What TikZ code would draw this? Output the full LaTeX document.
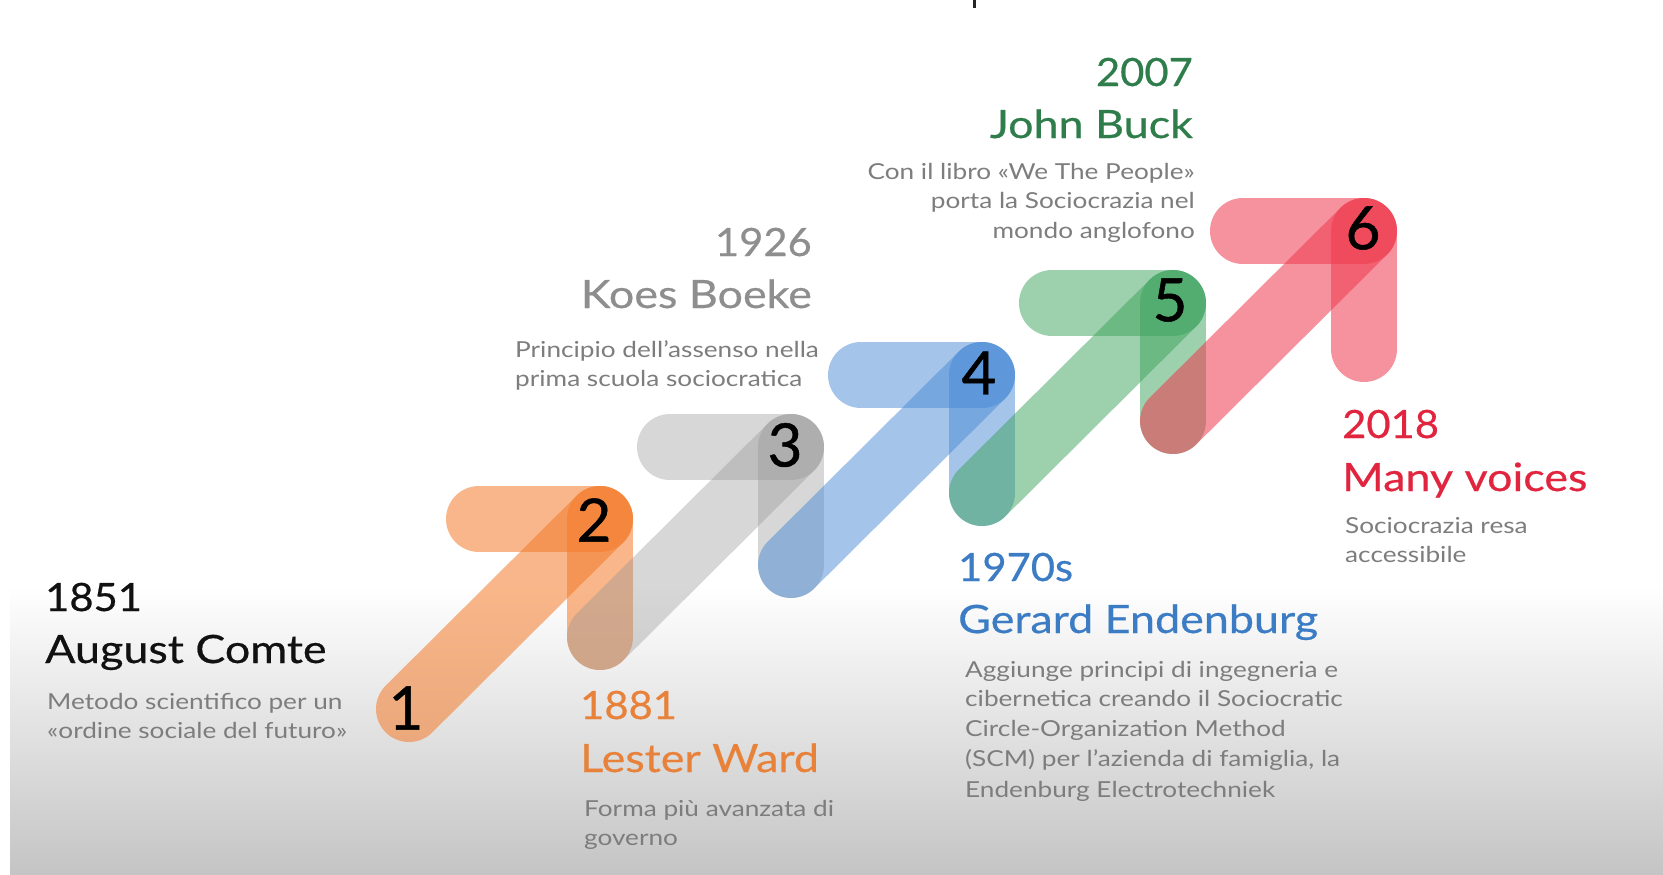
\documentclass[tikz,border=0pt]{standalone}
\usepackage{fontspec}
\setmainfont{Lato}
\newfontfamily\headfont[FakeStretch=1.15,FakeBold=0.5]{Lato}
\newfontfamily\yearfont[FakeStretch=1.07,FakeBold=0.5]{Lato}
\newfontfamily\descfont[FakeStretch=1.19]{Lato}
\newfontfamily\numfont[FakeBold=0.8]{Lato}
\usetikzlibrary{calc}
\definecolor{cOr}{HTML}{F47B2A}
\definecolor{cGy}{HTML}{969696}
\definecolor{cBl}{HTML}{4A8BD6}
\definecolor{cGr}{HTML}{3DA35D}
\definecolor{cRd}{HTML}{F03A4E}
\definecolor{hBk}{HTML}{111111}
\definecolor{hOr}{HTML}{E8823A}
\definecolor{hGy}{HTML}{8E8E8E}
\definecolor{hBl}{HTML}{3B7CC4}
\definecolor{hGr}{HTML}{2E7D4B}
\definecolor{hRd}{HTML}{E1253F}
\definecolor{descc}{HTML}{7D7D7D}
\begin{document}
\begin{tikzpicture}[x=1pt,y=-1pt,
  arm/.style={line width=66pt, line cap=round},
  head/.style={font=\headfont\fontsize{39}{52}\selectfont, inner sep=0pt},
  year/.style={font=\yearfont\fontsize{39}{52}\selectfont, inner sep=0pt},
  dsc/.style={font=\descfont\fontsize{22}{29}\selectfont, text=descc, inner sep=0pt},
  num/.style={font=\numfont\fontsize{60}{60}\selectfont, text=black, inner sep=0pt}]
% background
\useasboundingbox (0,0) rectangle (1663,875);
\fill[white] (0,0) rectangle (1663,875);
\shade[top color=white, bottom color={rgb,255:red,196;green,196;blue,196}] (10,586) rectangle (1663,875);
\draw[line width=3pt, black!85] (974,0) -- (974,8);
% tips and starts
\coordinate (s1) at (409,709);
\coordinate (t1) at (600,519);
\coordinate (t2) at (791,447);
\coordinate (t3) at (982,375);
\coordinate (t4) at (1173,303);
\coordinate (t5) at (1364,231);
\foreach \i in {1,...,5}{
  \coordinate (h\i) at ($(t\i)+(-121,0)$);
  \coordinate (v\i) at ($(t\i)+(0,118)$);
}
\coordinate (s2) at (v1);
\coordinate (s3) at (v2);
\coordinate (s4) at (v3);
\coordinate (s5) at (v4);
\foreach \i/\c/\a in {1/cOr/0.55,2/cGy/0.38,3/cBl/0.5,4/cGr/0.5,5/cRd/0.55}{
  \draw[arm, draw=\c, draw opacity=\a] (h\i) -- (t\i);
  \draw[arm, draw=\c, draw opacity=\a] (t\i) -- (v\i);
  \draw[arm, draw=\c, draw opacity=\a] (s\i) -- (t\i);
}
% numbers
\node[num] (n1) at (406,708) {1};
\node[num] (n2) at (594,520) {2};
\node[num] (n3) at (785,445) {3};
\node[num] (n4) at (979,373) {4};
\node[num] (n5) at (1170,300) {5};
\node[num] (n6) at (1363,228) {6};
% block 1
\node[year, text=hBk, anchor=base west] (y1) at (45,611) {1851};
\node[head, text=hBk, anchor=base west] (p1) at (45,663) {August Comte};
\node[dsc, anchor=base west] (d1a) at (47,709) {Metodo scientifico per un};
\node[dsc, anchor=base west] (d1b) at (47,738) {«ordine sociale del futuro»};
% block 2
\node[year, text=hOr, anchor=base west] (y2) at (580,719) {1881};
\node[head, text=hOr, anchor=base west] (p2) at (580,772) {Lester Ward};
\node[dsc, anchor=base west] (d2a) at (584,816) {Forma più avanzata di};
\node[dsc, anchor=base west] (d2b) at (584,845) {governo};
% block 3
\node[year, text=hGy, anchor=base east] (y3) at (812,256) {1926};
\node[head, text=hGy, anchor=base east] (p3) at (812,308) {Koes Boeke};
\node[dsc, anchor=base west] (d3a) at (515,357) {Principio dell’assenso nella};
\node[dsc, anchor=base west] (d3b) at (515,386) {prima scuola sociocratica};
% block 4
\node[year, text=hBl, anchor=base west] (y4) at (958,581) {1970s};
\node[head, text=hBl, anchor=base west] (p4) at (958,633) {Gerard Endenburg};
\node[dsc, anchor=base west] (d4a) at (965,677) {Aggiunge principi di ingegneria e};
\node[dsc, anchor=base west] (d4b) at (965,706) {cibernetica creando il Sociocratic};
\node[dsc, anchor=base west] (d4c) at (965,736) {Circle-Organization Method};
\node[dsc, anchor=base west] (d4d) at (965,766) {(SCM) per l’azienda di famiglia, la};
\node[dsc, anchor=base west] (d4e) at (965,797) {Endenburg Electrotechniek};
% block 5
\node[year, text=hGr, anchor=base east] (y5) at (1193,86) {2007};
\node[head, text=hGr, anchor=base east] (p5) at (1193,138) {John Buck};
\node[dsc, anchor=base east] (d5a) at (1195,179) {Con il libro «We The People»};
\node[dsc, anchor=base east] (d5b) at (1195,208) {porta la Sociocrazia nel};
\node[dsc, anchor=base east] (d5c) at (1195,238) {mondo anglofono};
% block 6
\node[year, text=hRd, anchor=base west] (y6) at (1342,438) {2018};
\node[head, text=hRd, anchor=base west] (p6) at (1342,491) {Many voices};
\node[dsc, anchor=base west] (d6a) at (1345,533) {Sociocrazia resa};
\node[dsc, anchor=base west] (d6b) at (1345,562) {accessibile};
\end{tikzpicture}
\end{document}
